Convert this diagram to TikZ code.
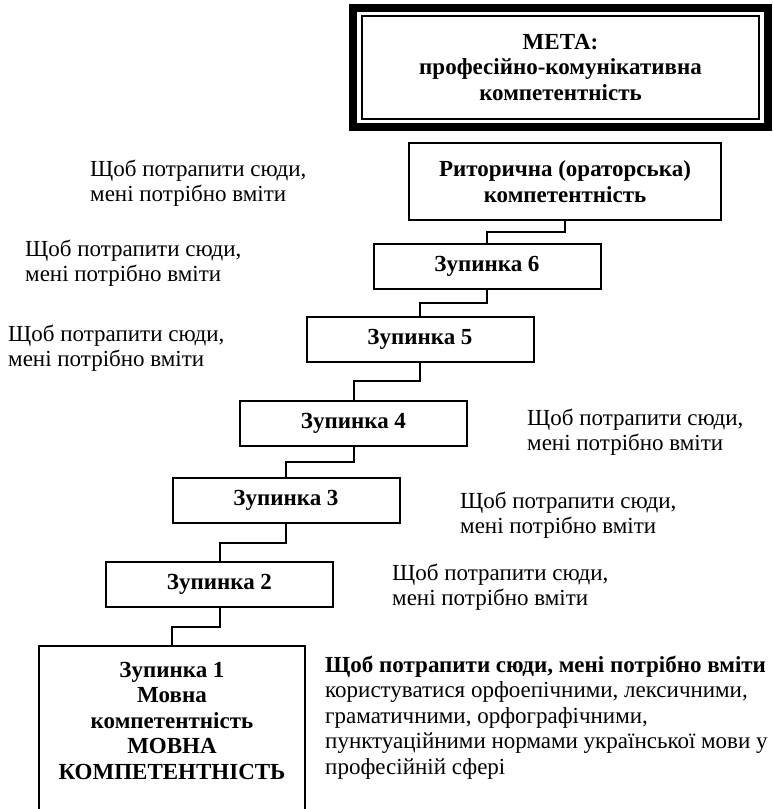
\documentclass[tikz,border=0pt]{standalone}
\usepackage{fontspec}
\setmainfont{Liberation Serif}
\usetikzlibrary{positioning,calc}

\tikzset{
    stopbox/.style={draw, line width=2pt, minimum width=227pt, minimum height=45pt,
        inner sep=2pt, align=center, font=\fontsize{23}{25.5}\selectfont\bfseries},
    hint/.style={anchor=base west, inner sep=0pt, align=left,
        font=\fontsize{23}{25.5}\selectfont},
    link/.style={line width=2pt},
}

\begin{document}
\begin{tikzpicture}[x=1pt,y=-1pt]
    \useasboundingbox (0,0) rectangle (773,809);
    \clip (0,0) rectangle (773,809);

    % goal
    \node[stopbox, minimum width=397pt, minimum height=103pt] (meta) at (560.5,67.5)
        {МЕТА:\\професійно-комунікативна\\компетентність};
    \draw[line width=8pt] ([shift={(-8,-7)}]meta.north west) rectangle ([shift={(8,7)}]meta.south east);

    \node[stopbox, minimum width=312pt, minimum height=77pt] (rit) at (565,181.5)
        {Риторична (ораторська)\\компетентність};

    % stops
    \node[stopbox] (z6) at (487,266.5) {Зупинка 6};
    \node[stopbox] (z5) at (420,339.5) {Зупинка 5};
    \node[stopbox] (z4) at (353.5,423) {Зупинка 4};
    \node[stopbox] (z3) at (286,500.5) {Зупинка 3};
    \node[stopbox] (z2) at (219.5,584.5) {Зупинка 2};
    \node[stopbox, minimum width=266pt, minimum height=220pt, anchor=north] (z1) at (172,645) {};
    \node[stopbox, draw=none, anchor=base] (z1text) at (172,779)
        {Зупинка 1\\Мовна\\компетентність\\МОВНА\\КОМПЕТЕНТНІСТЬ};

    % steps between boxes
    \draw[link] (rit.south) |- ($(rit.south)!.5!(z6.north)$) -| (z6.north);
    \foreach \a/\b in {z6/z5, z5/z4, z4/z3, z3/z2, z2/z1}
        \draw[link] (\a.south) |- ($(\a.south)!.5!(\b.north)$) -| (\b.north);

    % hints (placed by the baseline of their last line)
    \node[hint] (h1) at (90,201.5) {Щоб потрапити сюди,\\мені потрібно вміти};
    \node[hint] (h2) at (25,281.5) {Щоб потрапити сюди,\\мені потрібно вміти};
    \node[hint] (h3) at (8,366.5) {Щоб потрапити сюди,\\мені потрібно вміти};
    \node[hint] (h4) at (527,450.5) {Щоб потрапити сюди,\\мені потрібно вміти};
    \node[hint] (h5) at (460,533.5) {Щоб потрапити сюди,\\мені потрібно вміти};
    \node[hint] (h6) at (392,605.5) {Щоб потрапити сюди,\\мені потрібно вміти};
    \node[hint] (h7) at (325,774) {\textbf{Щоб потрапити сюди, мені потрібно вміти}\\
        користуватися орфоепічними, лексичними,\\граматичними, орфографічними,\\
        пунктуаційними нормами української мови у\\професійній сфері};
\end{tikzpicture}
\end{document}
